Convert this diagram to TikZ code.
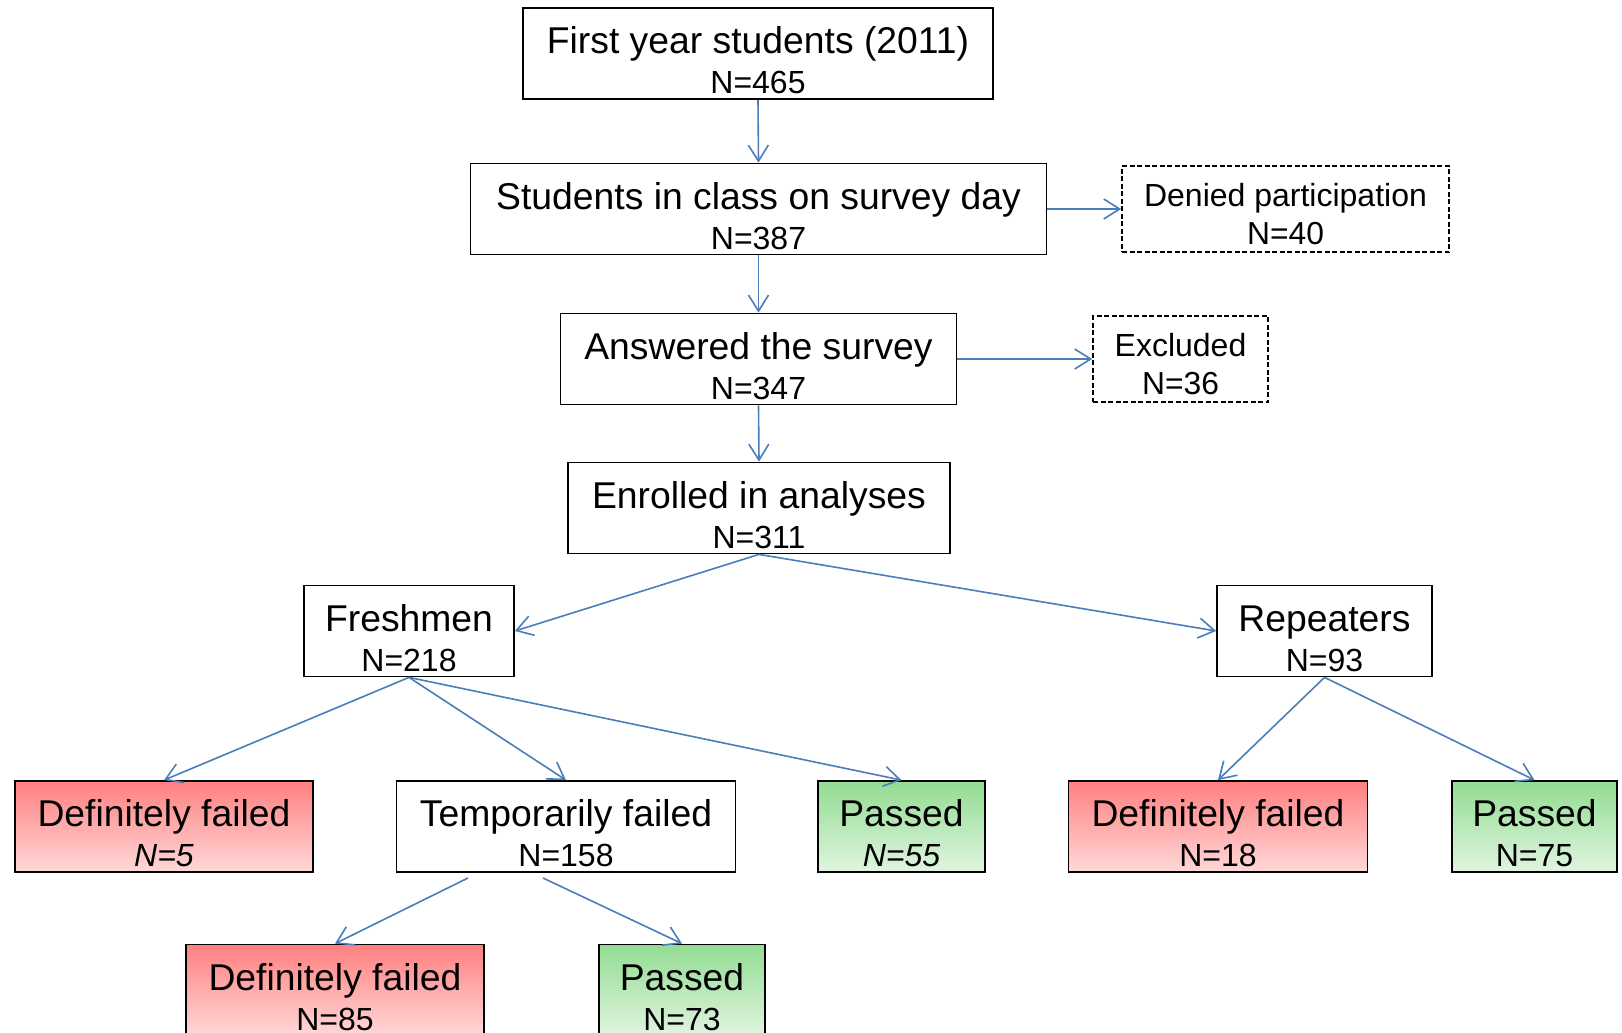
\documentclass[tikz,border=0pt]{standalone}
\usepackage{fontspec}
\setmainfont{Liberation Sans}
\usetikzlibrary{arrows.meta,calc}
\definecolor{arrblue}{RGB}{74,126,187}
\definecolor{redtop}{RGB}{255,128,128}
\definecolor{redbot}{RGB}{255,216,216}
\definecolor{grntop}{RGB}{146,220,146}
\definecolor{grnbot}{RGB}{224,244,224}
\newcommand{\twolines}[2]{\rule{0pt}{41pt}#1\\{\fontsize{32}{40}\selectfont #2}}
\newcommand{\twolinesS}[2]{\rule{0pt}{32.5pt}#1\\{\fontsize{31.8}{38}\selectfont #2}}
\tikzset{
  box/.style={draw=black, line width=1.8pt, rectangle, inner sep=0pt, align=center,
    font=\fontsize{37.3}{40}\selectfont, minimum height=91pt},
  sbox/.style={box, dash pattern=on 5pt off 2.5pt, line width=1.6pt,
    font=\fontsize{32}{38}\selectfont, minimum height=86pt},
  redbox/.style={box, top color=redtop, bottom color=redbot},
  grnbox/.style={box, top color=grntop, bottom color=grnbot},
  arr/.style={draw=arrblue, line width=1.6pt,
    -{Straight Barb[length=16pt,width=20pt,line width=1.6pt]}},
}
\begin{document}
\begin{tikzpicture}[x=1pt,y=-1pt]
\useasboundingbox (0,0) rectangle (1622,1033);
\node[box, minimum width=470pt] (b1) at (758,53.5) {\twolines{First year students (2011)}{N=465}};
\node[box, minimum width=576pt] (b2) at (758.5,209) {\twolines{Students in class on survey day}{N=387}};
\node[sbox, minimum width=327pt] (den) at (1285.5,209) {\twolinesS{Denied participation}{N=40}};
\node[box, minimum width=396pt] (b3) at (758.5,359) {\twolines{Answered the survey}{N=347}};
\node[sbox, minimum width=175pt] (exc) at (1180.5,359) {\twolinesS{Excluded}{N=36}};
\node[box, minimum width=382pt] (b4) at (759,508) {\twolines{Enrolled in analyses}{N=311}};
\node[box, minimum width=210pt] (fr) at (409,631) {\twolines{Freshmen}{N=218}};
\node[box, minimum width=215pt] (rep) at (1324.5,631) {\twolines{Repeaters}{N=93}};
\node[redbox, minimum width=298pt] (df1) at (164,826.5) {\twolines{Definitely failed}{\itshape N=5}};
\node[box, minimum width=339pt] (tmp) at (566,826.5) {\twolines{Temporarily failed}{N=158}};
\node[grnbox, minimum width=167pt] (ps1) at (901.5,826.5) {\twolines{Passed}{\itshape N=55}};
\node[redbox, minimum width=299pt] (df2) at (1218,826.5) {\twolines{Definitely failed}{N=18}};
\node[grnbox, minimum width=165pt] (ps2) at (1534.5,826.5) {\twolines{Passed}{N=75}};
\node[redbox, minimum width=298pt] (df3) at (335,990) {\twolines{Definitely failed}{N=85}};
\node[grnbox, minimum width=166pt] (ps3) at (682,990) {\twolines{Passed}{N=73}};
\coordinate (t1) at (468,878);
\coordinate (t2) at (543,878);
\draw[arr] (b1.south) -- (b2.north);
\draw[arr] (b2.east) -- (den.west);
\draw[arr] (b2.south) -- (b3.north);
\draw[arr] (b3.east) -- (exc.west);
\draw[arr] (b3.south) -- (b4.north);
\draw[arr] (b4.south) -- (fr.east);
\draw[arr] (b4.south) -- (rep.west);
\draw[arr] (fr.south) -- (df1.north);
\draw[arr] (fr.south) -- (tmp.north);
\draw[arr] (fr.south) -- (ps1.north);
\draw[arr] (rep.south) -- (df2.north);
\draw[arr] (rep.south) -- (ps2.north);
\draw[arr] (t1) -- (df3.north);
\draw[arr] (t2) -- (ps3.north);
\end{tikzpicture}
\end{document}
